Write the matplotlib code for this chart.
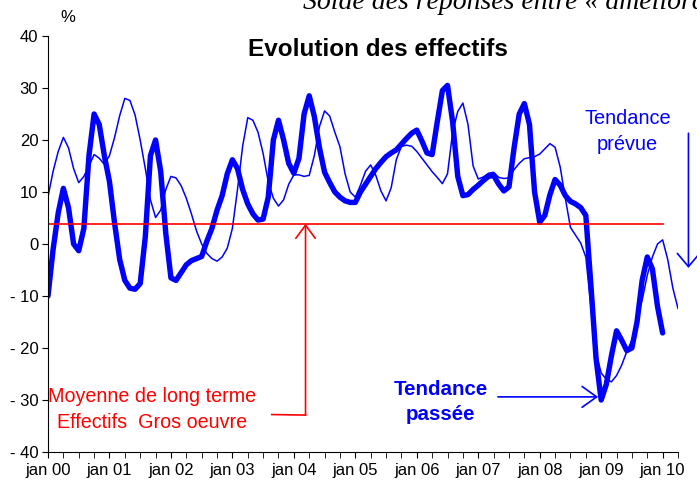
import numpy as np
import matplotlib
matplotlib.use("Agg")
import matplotlib.pyplot as plt
from matplotlib.ticker import FixedLocator, FuncFormatter

# monthly series, jan 2000 onward (solde en %)
passee = [-10, -1, 6, 10.7, 7, 0, -1.3, 3, 17, 25, 23, 17,
          12, 4, -3, -7, -8.5, -8.7, -7.6, 1.4, 17, 20, 14, 2,
          -6.5, -7, -5.5, -4, -3.2, -2.8, -2.4, 0.5, 3, 6.5, 9.3, 13.5,
          16.2, 14.5, 10.5, 7.7, 5.8, 4.6, 4.8, 9, 20, 23.8, 20, 15.5,
          13.6, 16.5, 25, 28.5, 24.5, 18.5, 13.8, 11.8, 10, 9, 8.3, 8.0,
          8, 10, 11.5, 13, 14.5, 15.7, 16.8, 17.5, 18.1, 19.2, 20.3, 21.3,
          21.9, 19.8, 17.5, 17.2, 23.5, 29.5, 30.5, 23.5, 13, 9.3, 9.5, 10.5,
          11.3, 12.2, 13, 13.2, 11.5, 10.2, 11, 18.5, 25, 27, 23, 10,
          4.2, 5.5, 9.5, 12.4, 11.3, 9.3, 8.2, 7.7, 7.0, 5.5, -8, -22,
          -30, -27, -21.5, -16.7, -18.5, -20.5, -20, -15, -7, -2.5, -4.8, -12,
          -17.1]

prevue = [9.1, 14, 17.8, 20.5, 18.5, 14.5, 11.8, 13, 15, 17.2, 16.5, 15.3,
          17, 20.5, 24.7, 28, 27.6, 24.8, 20, 14.5, 8.5, 5.1, 6.5, 10.5,
          13, 12.7, 11.2, 8.8, 5.8, 2.5, 0, -1.8, -2.8, -3.3, -2.5, -0.8,
          3, 10.5, 18.8, 24.3, 23.8, 21.5, 17.4, 12, 8.8, 7.3, 8.5, 11.5,
          13.3, 13.3, 13, 13.2, 17, 22.6, 25.6, 24.6, 21.5, 18.7, 13.5, 10,
          9, 11.3, 14, 15.2, 13.2, 10.2, 8.3, 10.8, 16.2, 18.8, 19, 18.8,
          17.8, 16.5, 15.2, 13.9, 12.8, 11.6, 13.5, 21.5, 25.5, 27.1, 23, 15,
          12.5, 12.9, 13.6, 13.8, 12.8, 12.6, 12.7, 14.3, 15.5, 16.4, 16.6, 16.8,
          17.3, 18.3, 19.3, 18.6, 14.8, 8.8, 3.2, 1.7, 0.2, -2.5, -12, -21,
          -24.8, -26, -26.5, -25.3, -23.3, -20.7, -18.5, -14.5, -10.8, -6, -2.5, 0,
          0.8, -3, -8.5, -12.4]

moyenne = 3.9
years = list(range(2000, 2011))
year_labels = ["jan %02d" % (y % 100) for y in years]

t_passee = 2000 + np.arange(len(passee)) / 12
t_prevue = 2000 + np.arange(len(prevue)) / 12

plt.rcParams['font.family'] = ['Liberation Sans', 'DejaVu Sans']
blue = '#0000FF'
red = '#FF0000'

fig = plt.figure(figsize=(6.97, 4.83), dpi=100)
W, H = 697, 483
ax = fig.add_axes([48 / W, 31 / H, 630 / W, 416 / H])

ax.plot(t_prevue, prevue, color=blue, lw=1.1)
ax.plot(t_passee, passee, color=blue, lw=3.9, solid_capstyle='round')
ax.plot([2000, 2010], [moyenne, moyenne], color=red, lw=1.2)

ax.set_xlim(2000, 2010.25)
ax.set_ylim(-40, 40)
for s in ['top', 'right']:
    ax.spines[s].set_visible(False)

ax.set_yticks(range(-40, 41, 10))
ax.yaxis.set_major_formatter(FuncFormatter(lambda v, p: "- %d" % -v if v < 0 else "%d" % v))
ax.tick_params(axis='y', direction='out', length=4, labelsize=12, pad=3)

ax.xaxis.set_major_locator(FixedLocator(years))
ax.set_xticklabels(year_labels)
ax.xaxis.set_minor_locator(FixedLocator(2000 + np.arange(0, 42) / 4))
ax.tick_params(axis='x', which='both', direction='out', length=4, labelsize=12, pad=4)

fig.text(60 / W, 1 - 18 / H, "%", fontsize=12, ha='left', va='center')
fig.text(378 / W, 1 - 50 / H, "Evolution des effectifs", fontsize=17.5,
         fontweight='bold', ha='center', va='center')
fig.text(303 / W, 1 - 9 / H, "Solde des réponses entre « amélioration » et « dégradation »",
         fontsize=20, style='italic', family=['Liberation Serif'],
         ha='left', va='baseline')

# moyenne de long terme
ax.text(2001.70, -31.8, "Moyenne de long terme\nEffectifs  Gros oeuvre",
        color=red, fontsize=14.2, ha='center', va='center', linespacing=1.45)
ax.plot([2003.64, 2004.19], [-32.8, -32.9], color=red, lw=1.2, clip_on=False)
ax.annotate("", xy=(2004.19, moyenne), xytext=(2004.19, -32.9),
            arrowprops=dict(arrowstyle='->,head_length=0.95,head_width=0.7',
                            color=red, lw=1.2, shrinkA=0, shrinkB=0))

# tendance passee
ax.text(2006.39, -30.4, "Tendance\npassée", color=blue, fontsize=14.8,
        fontweight='bold', ha='center', va='center', linespacing=1.4)
ax.annotate("", xy=(2008.95, -29.4), xytext=(2007.32, -29.4),
            arrowprops=dict(arrowstyle='->,head_length=1.05,head_width=0.75',
                            color=blue, lw=1.2, shrinkA=0, shrinkB=0))

# tendance prevue
ax.text(2009.43, 21.6, "Tendance\nprévue", color=blue, fontsize=14.4,
        ha='center', va='center', linespacing=1.5)
ax.annotate("", xy=(2010.42, -4.6), xytext=(2010.42, 21.3),
            arrowprops=dict(arrowstyle='->,head_length=0.95,head_width=0.8',
                            color=blue, lw=1.2, shrinkA=0, shrinkB=0),
            annotation_clip=False)

fig.savefig("out.png", dpi=100)
